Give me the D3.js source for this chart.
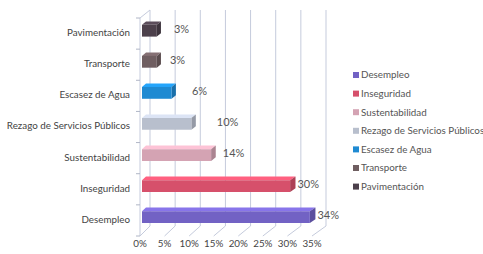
<!DOCTYPE html>
<html lang="es">
<head>
<meta charset="UTF-8">
<title>Problemas</title>
<style>
  body { margin: 0; background: #fff; }
  svg { display: block; font-family: Lato, "Open Sans", sans-serif; }
</style>
<script src="https://cdn.jsdelivr.net/npm/d3@7"></script>
</head>
<body>
<script>
// datos (de arriba hacia abajo)
var categorias = ['Pavimentación', 'Transporte', 'Escasez de Agua', 'Rezago de Servicios Públicos',
                  'Sustentabilidad', 'Inseguridad', 'Desempleo'];
var valores = [3, 3, 6, 10, 14, 30, 34];
var colores = ['#4c404b', '#6f5e61', '#1f8ad2', '#b8bfcd', '#d4a3b3', '#d6506b', '#7262c4'];
var ticks = [0, 5, 10, 15, 20, 25, 30, 35];

var width = 483, height = 254;
var svg = d3.select('body').append('svg')
  .attr('width', width)
  .attr('height', height);

// escalas del plano frontal y del fondo (perspectiva simple)
var xF = d3.scaleLinear().domain([0, 35]).range([140, 312]);
var xB = d3.scaleLinear().domain([0, 35]).range([150, 326]);
var yF = d3.scaleBand().domain(categorias).range([18, 236]);
var yB = d3.scaleBand().domain(categorias).range([10, 226]);

function lerp(a, b, t) { return a + (b - a) * t; }
// v: valor, c: categoria, f: fraccion dentro de la banda, z: profundidad 0..1
function p(v, c, f, z) {
  var x = lerp(xF(v), xB(v), z);
  var y = lerp(yF(c) + f * yF.bandwidth(), yB(c) + f * yB.bandwidth(), z);
  return [x, y];
}
function pts(arr) { return arr.map(function(d) { return d.join(','); }).join(' '); }

var grid = '#c5cbdc';
var g = svg.append('g');

// lineas del fondo y del piso
ticks.forEach(function(t) {
  g.append('line')
    .attr('x1', xB(t)).attr('y1', 226).attr('x2', xB(t)).attr('y2', 10)
    .attr('stroke', grid).attr('stroke-width', 1);
  g.append('line')
    .attr('x1', xF(t)).attr('y1', 236).attr('x2', xB(t)).attr('y2', 226)
    .attr('stroke', grid).attr('stroke-width', 1);
});
// pared izquierda
g.append('line').attr('x1', 140).attr('y1', 18).attr('x2', 140).attr('y2', 236)
  .attr('stroke', grid);
g.append('line').attr('x1', 140).attr('y1', 18).attr('x2', 150).attr('y2', 10)
  .attr('stroke', grid);
var bordes = categorias.map(function(c) { return yF(c); }).concat([236]);
bordes.forEach(function(y) {
  g.append('line').attr('x1', 136).attr('y1', y).attr('x2', 140).attr('y2', y)
    .attr('stroke', '#b0b6c6');
});

// barras 3D
var f0 = 0.27, f1 = 0.65, z0 = 0.2, z1 = 0.6;
var bars = g.selectAll('g.bar')
  .data(categorias)
  .enter()
  .append('g')
  .attr('class', 'bar');

bars.append('polygon')   // cara superior
  .attr('points', function(c, i) {
    var v = valores[i];
    return pts([p(0, c, f0, z0), p(v, c, f0, z0), p(v, c, f0, z1), p(0, c, f0, z1)]);
  })
  .attr('fill', function(c, i) { return d3.color(colores[i]).brighter(0.5); });

bars.append('polygon')   // cara lateral
  .attr('points', function(c, i) {
    var v = valores[i];
    return pts([p(v, c, f0, z0), p(v, c, f0, z1), p(v, c, f1, z1), p(v, c, f1, z0)]);
  })
  .attr('fill', function(c, i) { return d3.color(colores[i]).darker(0.6); });

bars.append('polygon')   // cara frontal
  .attr('points', function(c, i) {
    var v = valores[i];
    return pts([p(0, c, f0, z0), p(v, c, f0, z0), p(v, c, f1, z0), p(0, c, f1, z0)]);
  })
  .attr('fill', function(c, i) { return colores[i]; });

// etiquetas de valor
var empuje = [13, 9, 16, 21, 7, 2, 2];
g.selectAll('text.val')
  .data(categorias)
  .enter()
  .append('text')
  .attr('class', 'val')
  .attr('x', function(c, i) { return p(valores[i], c, f0, z1)[0] + empuje[i]; })
  .attr('y', function(c, i) { return p(valores[i], c, (f0 + f1) / 2, 0.4)[1]; })
  .attr('dy', '0.35em')
  .attr('font-size', '11px')
  .attr('fill', '#555')
  .text(function(c, i) { return valores[i] + '%'; });

// etiquetas de categoria
g.selectAll('text.cat')
  .data(categorias)
  .enter()
  .append('text')
  .attr('class', 'cat')
  .attr('x', 130)
  .attr('y', function(c) { return yF(c) + yF.bandwidth() / 2 - 1; })
  .attr('dy', '0.35em')
  .attr('text-anchor', 'end')
  .attr('font-size', '9.8px')
  .attr('fill', '#444')
  .text(function(c) { return c; });

// eje x
g.selectAll('text.tick')
  .data(ticks)
  .enter()
  .append('text')
  .attr('class', 'tick')
  .attr('x', function(t) { return xF(t); })
  .attr('y', 247)
  .attr('text-anchor', 'middle')
  .attr('font-size', '9.8px')
  .attr('fill', '#444')
  .text(function(t) { return t + '%'; });

// leyenda
var leyenda = categorias.slice().reverse();
var lg = svg.append('g').attr('transform', 'translate(353,75)');
var item = lg.selectAll('g')
  .data(leyenda)
  .enter()
  .append('g')
  .attr('transform', function(d, i) { return 'translate(0,' + (i * 18.6) + ')'; });
item.append('rect')
  .attr('x', 0).attr('y', -3).attr('width', 6).attr('height', 6)
  .attr('fill', function(d) { return colores[categorias.indexOf(d)]; });
item.append('text')
  .attr('x', 8).attr('y', 0).attr('dy', '0.35em')
  .attr('font-size', '9.8px')
  .attr('fill', '#555')
  .text(function(d) { return d; });
</script>
</body>
</html>
